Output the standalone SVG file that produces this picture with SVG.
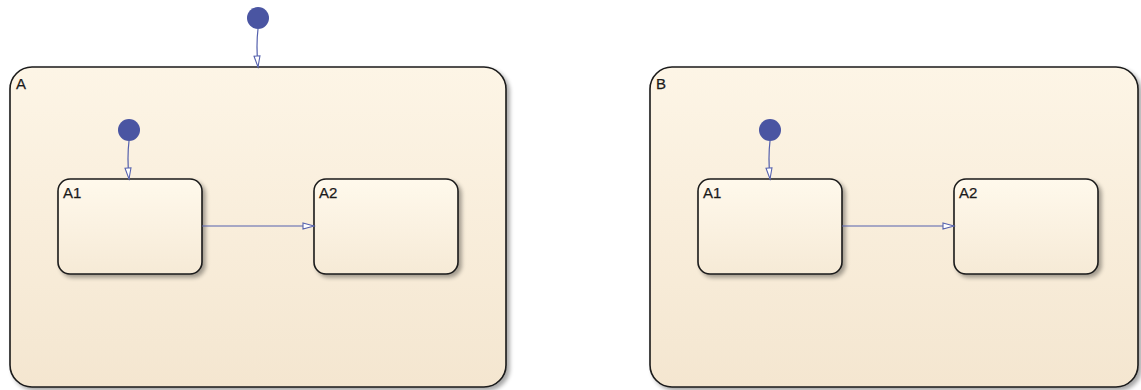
<svg xmlns="http://www.w3.org/2000/svg" width="1141" height="390" viewBox="0 0 1141 390">
<style>
.lbl{font-family:"Liberation Sans",Arial,sans-serif;font-size:15px;fill:#1a1a1a;stroke:#1a1a1a;stroke-width:0.25}
.st{stroke:#1a1a1a;stroke-width:1.6}
.outer{fill:url(#gOuter)}
.inner{fill:url(#gInner)}
.conn{fill:none;stroke:#5561ad;stroke-width:1.2}
.dot{fill:#4a55a2}
</style>
<defs>
<linearGradient id="gOuter" x1="0" y1="0" x2="0" y2="1">
<stop offset="0" stop-color="#fdf5e6"/>
<stop offset="1" stop-color="#f4e6d0"/>
</linearGradient>
<linearGradient id="gInner" x1="0" y1="0" x2="0" y2="1">
<stop offset="0" stop-color="#fff9ec"/>
<stop offset="1" stop-color="#f6ead6"/>
</linearGradient>
<filter id="sh" x="-10%" y="-10%" width="130%" height="130%">
<feGaussianBlur in="SourceAlpha" stdDeviation="2"/>
<feOffset dx="3" dy="3" result="b"/>
<feComponentTransfer><feFuncA type="linear" slope="0.35"/></feComponentTransfer>
<feMerge><feMergeNode/><feMergeNode in="SourceGraphic"/></feMerge>
</filter>
<marker id="arr" markerWidth="14" markerHeight="10" refX="12" refY="4" orient="auto" markerUnits="userSpaceOnUse">
<path d="M1,1 L12,4 L1,7 Z" fill="#ffffff" stroke="#5561ad" stroke-width="1.1"/>
</marker>
</defs>

<g id="A">
<rect class="outer st" x="10" y="67" width="496" height="320" rx="22" filter="url(#sh)"/>
<text class="lbl" x="16" y="89">A</text>
</g>
<g id="A_A1">
<rect class="inner st" x="58" y="179" width="144" height="95" rx="12" filter="url(#sh)"/>
<text class="lbl" x="63" y="198">A1</text>
</g>
<g id="A_A2">
<rect class="inner st" x="314" y="179" width="144" height="95" rx="12" filter="url(#sh)"/>
<text class="lbl" x="319" y="198">A2</text>
</g>
<g id="B">
<rect class="outer st" x="650" y="67" width="488" height="320" rx="22" filter="url(#sh)"/>
<text class="lbl" x="656" y="89">B</text>
</g>
<g id="B_A1">
<rect class="inner st" x="698" y="179" width="144" height="95" rx="12" filter="url(#sh)"/>
<text class="lbl" x="703" y="198">A1</text>
</g>
<g id="B_A2">
<rect class="inner st" x="954" y="179" width="144" height="95" rx="12" filter="url(#sh)"/>
<text class="lbl" x="959" y="198">A2</text>
</g>
<g id="defaults">
<circle class="dot" cx="258" cy="18" r="11"/>
<circle class="dot" cx="129" cy="130" r="11"/>
<circle class="dot" cx="770" cy="130" r="11"/>
</g>
<g id="connectors">
<path class="conn" d="M258,29 Q256,45 258,67" marker-end="url(#arr)"/>
<path class="conn" d="M129,141 Q127,157 129,179" marker-end="url(#arr)"/>
<path class="conn" d="M770,141 Q768,157 770,179" marker-end="url(#arr)"/>
<path class="conn" d="M202,226 L314,226" marker-end="url(#arr)"/>
<path class="conn" d="M842,226 L954,226" marker-end="url(#arr)"/>
</g>
</svg>
